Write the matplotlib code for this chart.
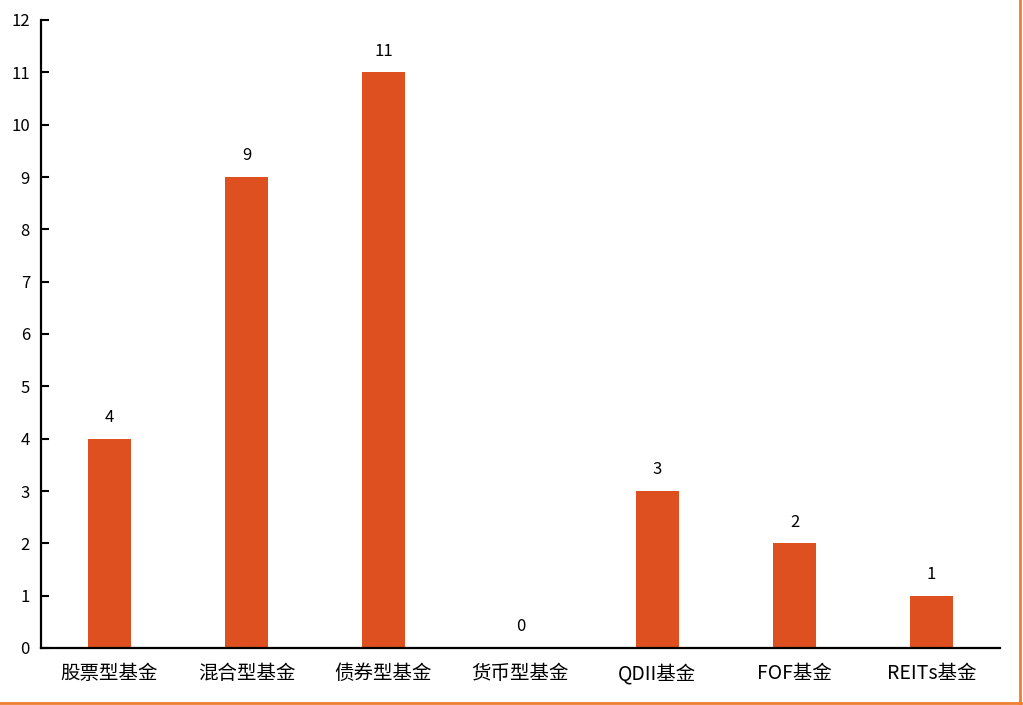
import matplotlib.pyplot as plt
from matplotlib.lines import Line2D

plt.rcParams['font.family'] = ['Noto Sans CJK SC', 'DejaVu Sans']

# 数据
categories = ['股票型基金', '混合型基金', '债券型基金', '货币型基金', 'QDII基金', 'FOF基金', 'REITs基金']
counts = [4, 9, 11, 0, 3, 2, 1]
y_ticks = list(range(0, 13))

fig = plt.figure(figsize=(10.23, 7.05), dpi=100)
ax = fig.add_axes([41 / 1023, 1 - 648 / 705, 959 / 1023, 628 / 705])

x = list(range(len(categories)))
ax.bar(x, counts, width=0.31, color='#DF5020', zorder=2)

for xi, v in zip(x, counts):
    ax.text(xi, v + 0.24, str(v), ha='center', va='bottom', fontsize=12, color='black')

ax.set_xlim(-0.5, len(categories) - 0.5)
ax.set_ylim(0, 12)
ax.set_yticks(y_ticks)
ax.set_xticks(x)
ax.set_xticklabels(categories, fontsize=14)
ax.tick_params(axis='y', direction='in', length=6, width=1.5, labelsize=12, pad=8)
ax.tick_params(axis='x', length=0, pad=11)

for side in ['top', 'right']:
    ax.spines[side].set_visible(False)
ax.spines['left'].set_linewidth(1.6)
ax.spines['bottom'].set_linewidth(1.6)

# 外框（右侧和底部橙色边线）
border = '#ED7D31'
fig.add_artist(Line2D([1020 / 1023, 1020 / 1023], [2 / 705, 1], transform=fig.transFigure, color=border, lw=2))
fig.add_artist(Line2D([0, 1021 / 1023], [2 / 705, 2 / 705], transform=fig.transFigure, color=border, lw=2))

fig.savefig('out.png', dpi=100, facecolor='white')
